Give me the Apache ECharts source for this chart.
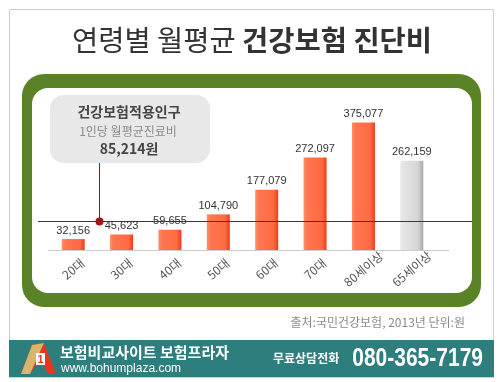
<!DOCTYPE html>
<html><head><meta charset="utf-8">
<script src="https://cdn.jsdelivr.net/npm/echarts@6/dist/echarts.min.js"></script>
<style>html,body{margin:0;padding:0;background:#fff;}#c{width:500px;height:382px;}</style>
</head><body><div id="c"></div>
<script>
const categories = ['20대','30대','40대','50대','60대','70대','80세이상','65세이상'];
const values = [32156, 45623, 59655, 104790, 177079, 272097, 375077, 262159];
const averageValue = 85214;
const titleNormal = '연령별 월평균 ';
const titleBold = '건강보험 진단비';
const calloutLines = ['건강보험적용인구', '1인당 월평균진료비', '85,214원'];
const sourceText = '출처:국민건강보험, 2013년 단위:원';

const KR = '"Noto Sans CJK KR", sans-serif';
const chart = echarts.init(document.getElementById('c'), null, {renderer:'canvas'});

const orange = new echarts.graphic.LinearGradient(0,0,1,0,[
  {offset:0,color:'#ff9068'},{offset:0.15,color:'#ff7650'},{offset:0.8,color:'#ff6a42'},{offset:1,color:'#ef3a1a'}]);
const gray = new echarts.graphic.LinearGradient(0,0,1,0,[
  {offset:0,color:'#e8e8e8'},{offset:0.75,color:'#d6d6d6'},{offset:1,color:'#a9a9a9'}]);

const staticGraphics = [
  {type:'rect', z:-10, shape:{x:9.5,y:9.5,width:484,height:368}, style:{fill:'#fff',stroke:'#cfcfcf',lineWidth:1}},
  {type:'rect', z:-9, shape:{x:22,y:74,width:459,height:233,r:22}, style:{fill:'#5a8227'}},
  {type:'rect', z:-8, shape:{x:32,y:88,width:440,height:205,r:16}, style:{fill:'#ffffff'}},
  {type:'text', z:5, style:{x:252,y:40,align:'center',verticalAlign:'middle',
    text:'{n|'+titleNormal+'}{b|'+titleBold+'}',
    rich:{n:{fontSize:28.5,fontFamily:KR,fill:'#333',fontWeight:'normal'},b:{fontSize:28.5,fontFamily:KR,fill:'#333',fontWeight:'bold'}}}},
  {type:'rect', z:5, shape:{x:50,y:95,width:160,height:68,r:14}, style:{fill:'#e8e8e8'}},
  {type:'text', z:6, style:{x:129,y:112,align:'center',verticalAlign:'middle',text:calloutLines[0],font:'bold 14px '+KR,fill:'#454545'}},
  {type:'text', z:6, style:{x:128,y:131,align:'center',verticalAlign:'middle',text:calloutLines[1],font:'12px '+KR,fill:'#8a8a8a'}},
  {type:'text', z:6, style:{x:129,y:149,align:'center',verticalAlign:'middle',text:calloutLines[2],font:'bold 14px '+KR,fill:'#454545'}},
  {type:'text', z:5, style:{x:465,y:322,align:'right',verticalAlign:'middle',text:sourceText,font:'12px '+KR,fill:'#8a8a8a'}},
  {type:'rect', z:5, shape:{x:9,y:340,width:485,height:37}, style:{fill:'#2f7e7e'}},
  {type:'polygon', z:6, shape:{points:[[21,374],[32,345],[44,343],[56,374],[48,374],[40,358],[30,374]]}, style:{fill:'#e9361a'}},
  {type:'polygon', z:6, shape:{points:[[21,374],[32,345],[44,343],[30,374]]}, style:{fill:'#d9b46a'}},
  {type:'rect', z:7, shape:{x:36,y:353,width:9,height:12}, style:{fill:'#fff'}},
  {type:'text', z:8, style:{x:40.5,y:359.5,align:'center',verticalAlign:'middle',text:'1',font:'bold 11px "Liberation Sans"',fill:'#e9361a'}},
  {type:'text', z:6, style:{x:60,y:352,align:'left',verticalAlign:'middle',text:'보험비교사이트 보험프라자',font:'bold 15px '+KR,fill:'#fff'}},
  {type:'text', z:6, style:{x:61,y:369,align:'left',verticalAlign:'middle',text:'www.bohumplaza.com',font:'12px "Liberation Sans"',fill:'#fff'}},
  {type:'text', z:6, style:{x:273,y:358,align:'left',verticalAlign:'middle',text:'무료상담전화',font:'bold 12px '+KR,fill:'#fff'}},
  {type:'text', z:6, x:483, y:359, scaleX:0.84, style:{x:0,y:0,align:'right',verticalAlign:'middle',text:'080-365-7179',font:'bold 25px "Liberation Sans"',fill:'#fff'}}
];

chart.setOption({
  animation:false,
  backgroundColor:'#fff',
  grid:{left:49,right:64,top:114,bottom:132,containLabel:false},
  xAxis:{type:'category',data:categories,
    axisLine:{show:true,lineStyle:{color:'#cccccc',width:1}},
    axisTick:{show:false},
    axisLabel:{rotate:40,align:'center',verticalAlign:'middle',margin:19,fontSize:12,color:'#555',fontFamily:KR}},
  yAxis:{type:'value',min:0,max:400000,show:false,splitLine:{show:false}},
  series:[{type:'bar',barWidth:23,
    data:values.map((v,i)=>({value:v,itemStyle:{color:i===values.length-1?gray:orange}})),
    label:{show:true,position:'top',distance:3,fontSize:11,color:'#333',fontFamily:'"Liberation Sans", sans-serif',
      formatter:p=>p.value.toLocaleString('en-US')}}],
  graphic:staticGraphics
});

const yAvg = chart.convertToPixel({yAxisIndex:0}, averageValue);
const y0 = chart.convertToPixel({yAxisIndex:0}, 0);
const xA = chart.convertToPixel({xAxisIndex:0}, categories[0]);
const xB = chart.convertToPixel({xAxisIndex:0}, categories[1]);
const xDot = (xA+xB)/2 + 2;
chart.setOption({graphic: staticGraphics.concat([
  {type:'line', z:4, shape:{x1:436,y1:y0+0.5,x2:449,y2:y0+0.5}, style:{stroke:'#cccccc',lineWidth:1}},
  {type:'line', z:10, shape:{x1:38,y1:Math.round(yAvg)+0.5,x2:472,y2:Math.round(yAvg)+0.5}, style:{stroke:'#8f1414',lineWidth:1}},
  {type:'line', z:10, shape:{x1:Math.round(xDot)+0.5,y1:163,x2:Math.round(xDot)+0.5,y2:yAvg}, style:{stroke:'#8f1414',lineWidth:1}},
  {type:'circle', z:11, shape:{cx:Math.round(xDot)+0.5,cy:Math.round(yAvg)+0.5,r:4}, style:{fill:'#a01515'}}
])}, {replaceMerge:['graphic']});
</script></body></html>
